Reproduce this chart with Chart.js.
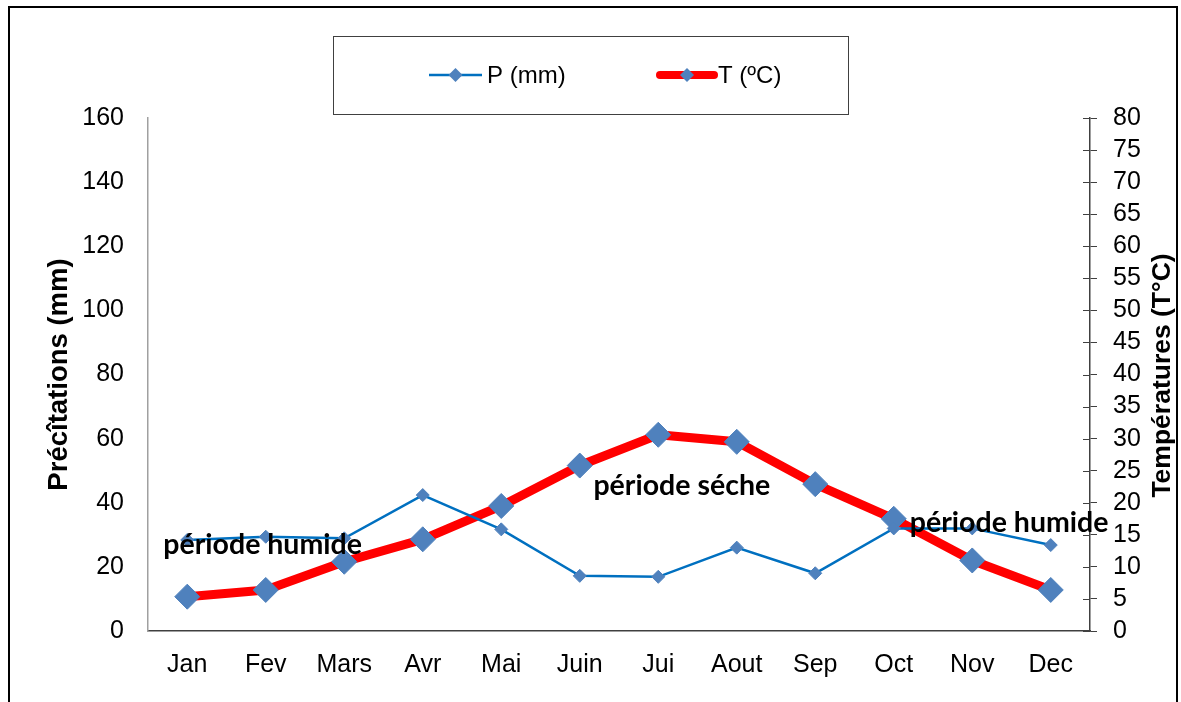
<!DOCTYPE html>
<html>
<head>
<meta charset="utf-8">
<script src="https://cdn.jsdelivr.net/npm/chart.js@4/dist/chart.umd.min.js"></script>
<style>
  html, body { margin: 0; padding: 0; background: #fff; }
  #wrap { width: 1181px; height: 702px; }
</style>
</head>
<body>
<div id="wrap"><canvas id="c" width="1181" height="702"></canvas></div>
<script>
const months = ['Jan', 'Fev', 'Mars', 'Avr', 'Mai', 'Juin', 'Jui', 'Aout', 'Sep', 'Oct', 'Nov', 'Dec'];
const precipitation = [28.4, 29.4, 28.9, 42.4, 31.7, 17.2, 16.9, 26.0, 18.0, 32.0, 32.0, 26.8];
const temperature = [5.35, 6.4, 10.8, 14.3, 19.5, 25.8, 30.6, 29.5, 22.9, 17.5, 11.0, 6.4];
const seriesNames = ['P (mm)', 'T (ºC)'];
const leftTitle = 'Précîtations (mm)';
const rightTitle = 'Températures (T°C)';
const periodLabels = ['période humide', 'période séche', 'période humide'];
const periodAt = [0.96, 6.3, 10.47];      // category index of label centre
const periodValue = [26.8, 45.2, 33.7];   // precipitation value of label centre

const ARIAL = '"Liberation Sans", Arial, sans-serif';
const MARK = '#4F81BD';

const framePlugin = {
  id: 'frame',
  beforeDraw(chart) {
    const c = chart.ctx;
    c.save();
    c.fillStyle = '#fff';
    c.fillRect(0, 0, chart.width, chart.height);
    c.strokeStyle = '#000';
    c.lineWidth = 2;
    c.beginPath();
    c.moveTo(9, chart.height);
    c.lineTo(9, 7);
    c.lineTo(1177, 7);
    c.lineTo(1177, chart.height);
    c.stroke();
    c.restore();
  }
};

const extrasPlugin = {
  id: 'extras',
  afterDatasetsDraw(chart) {
    const c = chart.ctx;
    const xs = chart.scales.x, ys = chart.scales.y, y1 = chart.scales.y1;
    c.save();
    // inward tick marks on the right axis
    c.strokeStyle = '#404040';
    c.lineWidth = 1;
    y1.ticks.forEach((t, i) => {
      const py = Math.round(y1.getPixelForTick(i)) + 0.5;
      c.beginPath();
      c.moveTo(y1.left - 7, py);
      c.lineTo(y1.left, py);
      c.stroke();
    });
    // period annotations
    c.fillStyle = '#000';
    c.font = 'bold 28.5px Lato, "Open Sans", sans-serif';
    c.textAlign = 'center';
    c.textBaseline = 'middle';
    periodLabels.forEach((txt, i) => {
      c.fillText(txt, xs.getPixelForValue(periodAt[i]), ys.getPixelForValue(periodValue[i]));
    });
    // right axis title (reads bottom-to-top)
    c.save();
    c.translate(1163, (y1.top + y1.bottom) / 2 + 1);
    c.rotate(-Math.PI / 2);
    c.font = 'bold 26.5px ' + ARIAL;
    c.fillText(rightTitle, 0, 0);
    c.restore();
    // legend box
    c.strokeStyle = '#404040';
    c.lineWidth = 1;
    c.strokeRect(333.5, 36.5, 515, 78);
    const ly = 75;
    const ds = chart.data.datasets;
    const items = [{x0: 429, x1: 482, tx: 487}, {x0: 660, x1: 714, tx: 718}];
    items.forEach((it, i) => {
      const d = ds[i];
      c.strokeStyle = d.borderColor;
      c.lineWidth = i === 0 ? 2.5 : 8;
      c.lineCap = i === 0 ? 'butt' : 'round';
      c.beginPath();
      c.moveTo(it.x0, ly);
      c.lineTo(it.x1, ly);
      c.stroke();
      const r = 7;
      const cx = (it.x0 + it.x1) / 2;
      c.fillStyle = MARK;
      c.beginPath();
      c.moveTo(cx - r, ly); c.lineTo(cx, ly - r); c.lineTo(cx + r, ly); c.lineTo(cx, ly + r);
      c.closePath();
      c.fill();
      c.fillStyle = '#000';
      c.font = '24px ' + ARIAL;
      c.textAlign = 'left';
      c.fillText(seriesNames[i], it.tx, ly + 1);
    });
    c.restore();
  }
};

new Chart(document.getElementById('c'), {
  type: 'line',
  data: {
    labels: months,
    datasets: [
      {
        label: seriesNames[0],
        data: precipitation,
        yAxisID: 'y',
        borderColor: '#0070C0',
        borderWidth: 2.5,
        pointStyle: 'rectRot',
        pointRadius: 6.5,
        pointBackgroundColor: MARK,
        pointBorderColor: MARK,
        pointBorderWidth: 1,
        tension: 0,
        order: 0
      },
      {
        label: seriesNames[1],
        data: temperature,
        yAxisID: 'y1',
        borderColor: '#FF0000',
        borderWidth: 9,
        borderJoinStyle: 'round',
        pointStyle: 'rectRot',
        pointRadius: 12.5,
        pointBackgroundColor: MARK,
        pointBorderColor: MARK,
        pointBorderWidth: 1,
        tension: 0,
        order: 1
      }
    ]
  },
  options: {
    responsive: false,
    animation: false,
    devicePixelRatio: 1,
    layout: { padding: { top: 118, left: 0, right: 0, bottom: 0 } },
    plugins: { legend: { display: false }, tooltip: { enabled: false } },
    scales: {
      x: {
        offset: true,
        grid: { display: false, drawTicks: false },
        border: { display: true, color: '#404040', width: 1.5 },
        ticks: { color: '#000', font: { family: ARIAL, size: 25 }, padding: 19, maxRotation: 0 },
        afterFit(s) { s.height = 71; }
      },
      y: {
        position: 'left',
        min: 0, max: 160,
        ticks: { stepSize: 20, color: '#000', font: { family: ARIAL, size: 25 }, padding: 24 },
        grid: { display: false, drawTicks: false },
        border: { display: true, color: '#A0A0A0', width: 1.5 },
        title: { display: true, text: leftTitle, color: '#000', font: { family: ARIAL, size: 27.5, weight: 'bold' }, padding: { top: 43, bottom: 0 } },
        afterFit(s) { s.width = 148; }
      },
      y1: {
        position: 'right',
        min: 0, max: 80,
        ticks: { stepSize: 5, autoSkip: false, color: '#000', font: { family: ARIAL, size: 25 }, padding: 16 },
        grid: { drawOnChartArea: false, drawTicks: true, tickLength: 7, color: '#404040' },
        border: { display: true, color: '#404040', width: 1.5 },
        afterFit(s) { s.width = 91; }
      }
    }
  },
  plugins: [framePlugin, extrasPlugin]
});
</script>
</body>
</html>
